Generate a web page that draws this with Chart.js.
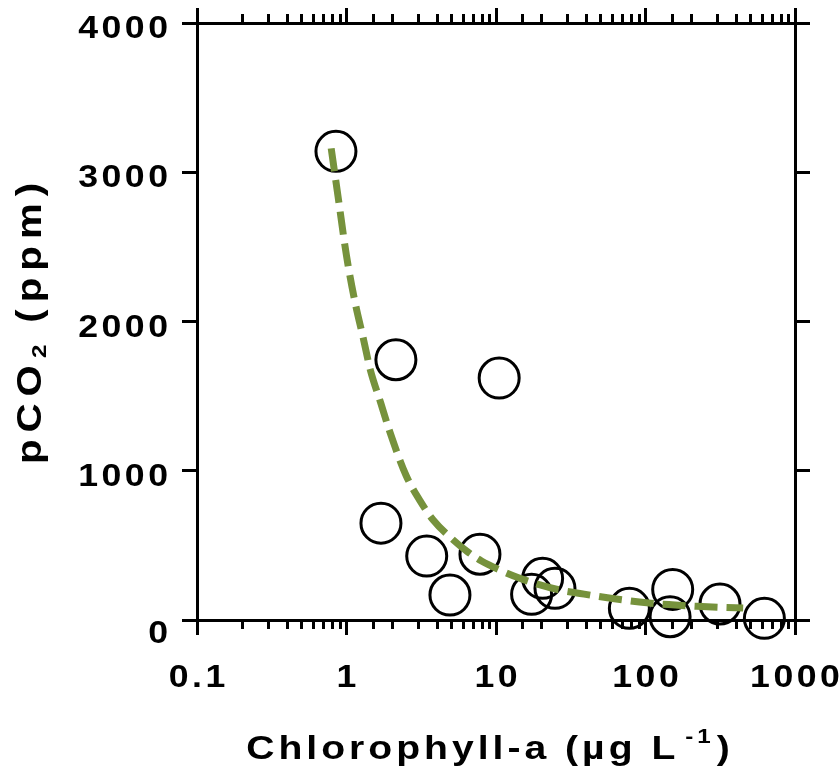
<!DOCTYPE html>
<html>
<head>
<meta charset="utf-8">
<script src="https://cdn.jsdelivr.net/npm/chart.js@4.4.1/dist/chart.umd.min.js"></script>
<style>
  html, body { margin: 0; padding: 0; background: #fff; }
  #wrap { width: 840px; height: 782px; }
</style>
</head>
<body>
<div id="wrap"><canvas id="chlChart" width="840" height="782"></canvas></div>
<script>
// field samples: chlorophyll-a (ug/L) vs pCO2 (ppm)
const chlA = [0.85, 2.14, 10.5, 1.70, 3.44, 4.92, 7.81, 20.5, 17.3, 24.8, 78, 152, 146, 315, 624];
const pco2 = [3140, 1744, 1621, 649, 428, 167, 441, 279, 172, 212, 78, 205, 22, 107, 11];

// fitted trend line
const fitChl  = [0.79, 0.88, 1.0, 1.14, 1.3, 1.44, 1.7, 1.95, 2.5, 3.1, 3.8, 5.0, 6.4, 8.0, 10.6, 14, 19.7, 27, 36.5, 47, 70, 102, 150, 220, 320, 450];
const fitPco2 = [3160, 2830, 2440, 2130, 1880, 1680, 1450, 1260, 970, 800, 670, 550, 460, 395, 335, 285, 235, 200, 178, 160, 135, 115, 102, 92, 85, 80];

const xTicks = [0.1, 1, 10, 100, 1000];
const xTickLabels = ['0.1', '1', '10', '100', '1000'];
const yTicks = [0, 1000, 2000, 3000, 4000];
const yTickLabels = ['0', '1000', '2000', '3000', '4000'];

const FONT = '"Liberation Sans", Arial, sans-serif';
const STRETCH = 1.15; // wide bold lettering

function isDecade(v) {
    const l = Math.log10(v);
    return Math.abs(l - Math.round(l)) < 1e-9;
}

// width of a letter-spaced run
function spacedWidth(ctx, text, spacing) {
    let w = 0;
    for (const ch of text) w += ctx.measureText(ch).width * STRETCH + spacing;
    return w - spacing;
}

// draws a letter-spaced run from x on baseline y, returns the end x
function drawSpaced(ctx, text, x, y, spacing) {
    for (const ch of text) {
        ctx.save();
        ctx.translate(x, y);
        ctx.scale(STRETCH, 1);
        ctx.fillText(ch, 0, 0);
        ctx.restore();
        x += ctx.measureText(ch).width * STRETCH + spacing;
    }
    return x;
}

// runs of [text, size, baseline shift, gap after]
function runsWidth(ctx, runs, spacing) {
    let w = 0;
    runs.forEach(([t, size, shift, gap]) => {
        ctx.font = `bold ${size}px ${FONT}`;
        w += spacedWidth(ctx, t, spacing) + (gap || 0);
    });
    return w;
}

function drawRuns(ctx, runs, x, y, spacing) {
    runs.forEach(([t, size, shift, gap]) => {
        ctx.font = `bold ${size}px ${FONT}`;
        x = drawSpaced(ctx, t, x, y + shift, spacing) - spacing + (gap || 0);
    });
}

// short minor ticks on the log axes (major ones come from the grid options)
const minorTicks = {
    id: 'minorTicks',
    afterDraw(chart) {
        const ctx = chart.ctx;
        const { top, bottom } = chart.chartArea;
        ctx.save();
        ctx.strokeStyle = '#000';
        ctx.lineWidth = 3;
        ['x', 'x2'].forEach(id => {
            const s = chart.scales[id];
            s.ticks.forEach(t => {
                if (isDecade(t.value)) return;
                const px = Math.round(s.getPixelForValue(t.value)) + 0.5;
                ctx.beginPath();
                if (id === 'x') { ctx.moveTo(px, bottom); ctx.lineTo(px, bottom + 9); }
                else { ctx.moveTo(px, top); ctx.lineTo(px, top - 9); }
                ctx.stroke();
            });
        });
        ctx.restore();
    }
};

// tick labels and axis titles
const axisText = {
    id: 'axisText',
    afterDraw(chart) {
        const ctx = chart.ctx;
        const area = chart.chartArea;
        const xs = chart.scales.x, ys = chart.scales.y;
        ctx.save();
        ctx.fillStyle = '#000';
        ctx.textAlign = 'left';
        ctx.textBaseline = 'alphabetic';

        ctx.font = `bold 31px ${FONT}`;
        const capH = 22;
        yTicks.forEach((v, i) => {
            const txt = yTickLabels[i];
            const w = spacedWidth(ctx, txt, 3.5);
            let base = ys.getPixelForValue(v) + capH / 2 + 4;
            // zero label sits just under the x axis line
            if (i === 0) base = area.bottom + 1 + capH;
            drawSpaced(ctx, txt, area.left - 29 - w, base, 3.5);
        });
        xTicks.forEach((v, i) => {
            const txt = xTickLabels[i];
            const w = spacedWidth(ctx, txt, 3.5);
            drawSpaced(ctx, txt, xs.getPixelForValue(v) - w / 2, area.bottom + 67, 3.5);
        });

        // x title with superscript
        const xRuns = [['Chlorophyll-a (\u00b5g L', 34, 0, 10], ['-1', 21, -16, 6], [')', 34, 0, 0]];
        const xw = runsWidth(ctx, xRuns, 4);
        drawRuns(ctx, xRuns, (area.left + area.right) / 2 - 8 - xw / 2, 759, 4);

        // y title with subscript
        const yRuns = [['pCO', 35, 0, 7], ['2', 21, 5, 22], ['(ppm)', 35, 0, 0]];
        const yw = runsWidth(ctx, yRuns, 7);
        ctx.translate(41, (area.top + area.bottom) / 2 + 2);
        ctx.rotate(-Math.PI / 2);
        drawRuns(ctx, yRuns, -yw / 2, 0, 7);
        ctx.restore();
    }
};

function axisGrid(logScale) {
    return {
        drawOnChartArea: false,
        drawTicks: true,
        tickLength: 15,
        tickWidth: 3,
        lineWidth: 3,
        color: '#000',
        tickColor: logScale
            ? (c) => (c.tick && isDecade(c.tick.value) ? '#000' : 'rgba(0,0,0,0)')
            : '#000'
    };
}

const border = { display: true, color: '#000', width: 3 };

const ctx = document.getElementById('chlChart').getContext('2d');

new Chart(ctx, {
    type: 'scatter',
    data: {
        datasets: [
            {
                label: 'samples',
                data: chlA.map((x, i) => ({ x: x, y: pco2[i] })),
                pointRadius: 20,
                pointHoverRadius: 20,
                borderWidth: 3,
                borderColor: '#000',
                backgroundColor: 'rgba(0,0,0,0)',
                clip: false,
                order: 1
            },
            {
                type: 'line',
                label: 'fit',
                data: fitChl.map((x, i) => ({ x: x, y: fitPco2[i] })),
                borderColor: '#76923c',
                borderWidth: 7,
                borderDash: [23, 9],
                borderCapStyle: 'butt',
                cubicInterpolationMode: 'monotone',
                pointRadius: 0,
                fill: false,
                order: 0
            }
        ]
    },
    options: {
        responsive: false,
        animation: false,
        devicePixelRatio: 1,
        events: [],
        layout: { padding: 0 },
        plugins: {
            legend: { display: false },
            tooltip: { enabled: false }
        },
        scales: {
            x: {
                type: 'logarithmic',
                position: 'bottom',
                min: 0.1,
                max: 1000,
                ticks: { display: false, autoSkip: false },
                grid: axisGrid(true),
                border: border,
                afterFit: (s) => { s.height = 162; }
            },
            x2: {
                type: 'logarithmic',
                position: 'top',
                min: 0.1,
                max: 1000,
                ticks: { display: false, autoSkip: false },
                grid: axisGrid(true),
                border: border,
                afterFit: (s) => { s.height = 22; }
            },
            y: {
                type: 'linear',
                position: 'left',
                min: 0,
                max: 4000,
                ticks: { display: false, stepSize: 1000 },
                grid: axisGrid(false),
                border: border,
                afterFit: (s) => { s.width = 197; }
            },
            y2: {
                type: 'linear',
                position: 'right',
                min: 0,
                max: 4000,
                ticks: { display: false, stepSize: 1000 },
                grid: axisGrid(false),
                border: border,
                afterFit: (s) => { s.width = 45; }
            }
        }
    },
    plugins: [minorTicks, axisText]
});
</script>
</body>
</html>
